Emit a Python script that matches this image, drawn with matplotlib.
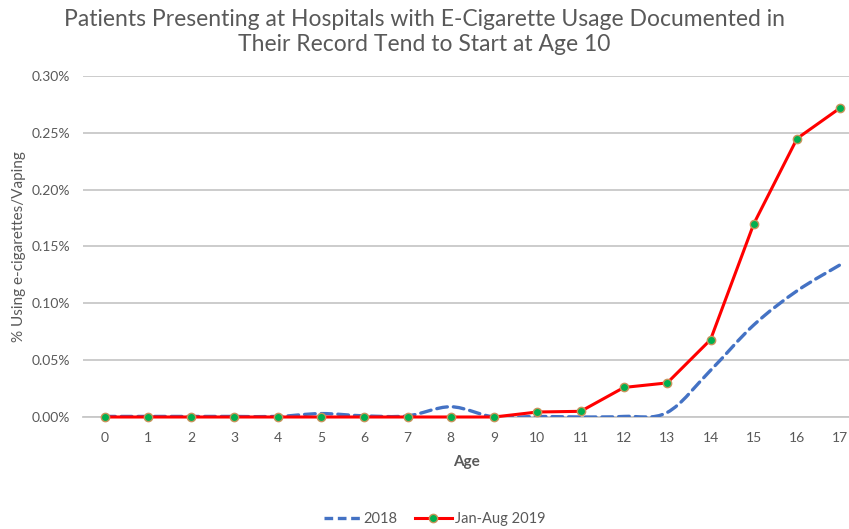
import matplotlib
matplotlib.use("Agg")
import matplotlib.pyplot as plt
from matplotlib.path import Path
from matplotlib.patches import PathPatch
from matplotlib.lines import Line2D
from matplotlib.ticker import FuncFormatter
import numpy as np

ages = list(range(18))
series_2018 = [0.0005, 0.0005, 0.0005, 0.0005, 0.0005, 0.003, 0.001, 0.001, 0.009, 0.0,
               0.0005, 0.0, 0.0005, 0.004, 0.041, 0.081, 0.111, 0.134]
series_2019 = [0.0, 0.0, 0.0, 0.0, 0.0, 0.0, 0.0, 0.0, 0.0, 0.0,
               0.0044, 0.005, 0.026, 0.030, 0.068, 0.170, 0.245, 0.272]
labels = ["2018", "Jan-Aug 2019"]
title = "Patients Presenting at Hospitals with E-Cigarette Usage Documented in\nTheir Record Tend to Start at Age 10"
xlabel = "Age"
ylabel = "% Using e-cigarettes/Vaping"
yticks = [0.0, 0.05, 0.10, 0.15, 0.20, 0.25, 0.30]

plt.rcParams['font.family'] = ['Lato', 'DejaVu Sans']
GRAY = "#595959"
BLUE = "#4472C4"
RED = "#FF0000"
GREEN = "#00B050"

fig = plt.figure(figsize=(8.49, 5.29), dpi=100)
ax = fig.add_axes([83/849, 1 - 417/529, 1 - 83/849, (417 - 76)/529])
ax.set_xlim(-0.5, 17.2)
ax.set_ylim(0, 0.30)

def smooth_path(xs, ys):
    pts = np.column_stack([xs, ys]).astype(float)
    n = len(pts)
    verts = [pts[0]]
    codes = [Path.MOVETO]
    for i in range(n - 1):
        p0 = pts[i - 1] if i > 0 else pts[i]
        p1 = pts[i]
        p2 = pts[i + 1]
        p3 = pts[i + 2] if i + 2 < n else pts[i + 1]
        c1 = p1 + (p2 - p0) / 6.0
        c2 = p2 - (p3 - p1) / 6.0
        verts += [c1, c2, p2]
        codes += [Path.CURVE4] * 3
    return Path(verts, codes)

# gridlines
ax.set_yticks(yticks)
ax.yaxis.grid(True, color="#C8C8C8", linewidth=1.3)
ax.set_axisbelow(True)
for s in ["top", "right", "left"]:
    ax.spines[s].set_visible(False)
ax.spines["bottom"].set_color("#C8C8C8")
ax.spines["bottom"].set_linewidth(1.3)

patch = PathPatch(smooth_path(ages, series_2018), fill=False, edgecolor=BLUE,
                  linewidth=2.4, linestyle=(0, (3.2, 1.8)), capstyle="round", zorder=3)
ax.add_patch(patch)

ax.plot(ages, series_2019, color=RED, linewidth=2.2, marker="o", markersize=6,
        markerfacecolor=GREEN, markeredgecolor="#C8945A", markeredgewidth=1.0, zorder=4,
        clip_on=False)

ax.set_xticks(ages)
ax.set_xticklabels([str(a) for a in ages])
ax.yaxis.set_major_formatter(FuncFormatter(lambda v, p: f"{v:.2f}%"))
ax.tick_params(axis="both", length=0, labelsize=10, labelcolor=GRAY)
ax.tick_params(axis="x", pad=11)
ax.tick_params(axis="y", pad=9)

ax.set_xlabel(xlabel, fontsize=11, color=GRAY, fontweight="bold", labelpad=8)
ax.set_ylabel(ylabel, fontsize=11, color=GRAY, labelpad=4)

fig.text(0.5, 1 - 32/529, title, ha="center", va="center", fontsize=16.5, color=GRAY,
         linespacing=1.2)

handles = [Line2D([], [], color=BLUE, linewidth=2.4, linestyle=(0, (2.6, 1.4))),
           Line2D([], [], color=RED, linewidth=2.2, marker="o", markersize=6,
                  markerfacecolor=GREEN, markeredgecolor="#C8945A")]
fig.legend(handles, labels, loc="center", bbox_to_anchor=(0.512, 1 - 519/529), ncol=2,
           frameon=False, fontsize=10.5, labelcolor=GRAY, handlelength=2.5,
           handletextpad=0.2, columnspacing=1.2)

fig.savefig("out.png", dpi=100)
